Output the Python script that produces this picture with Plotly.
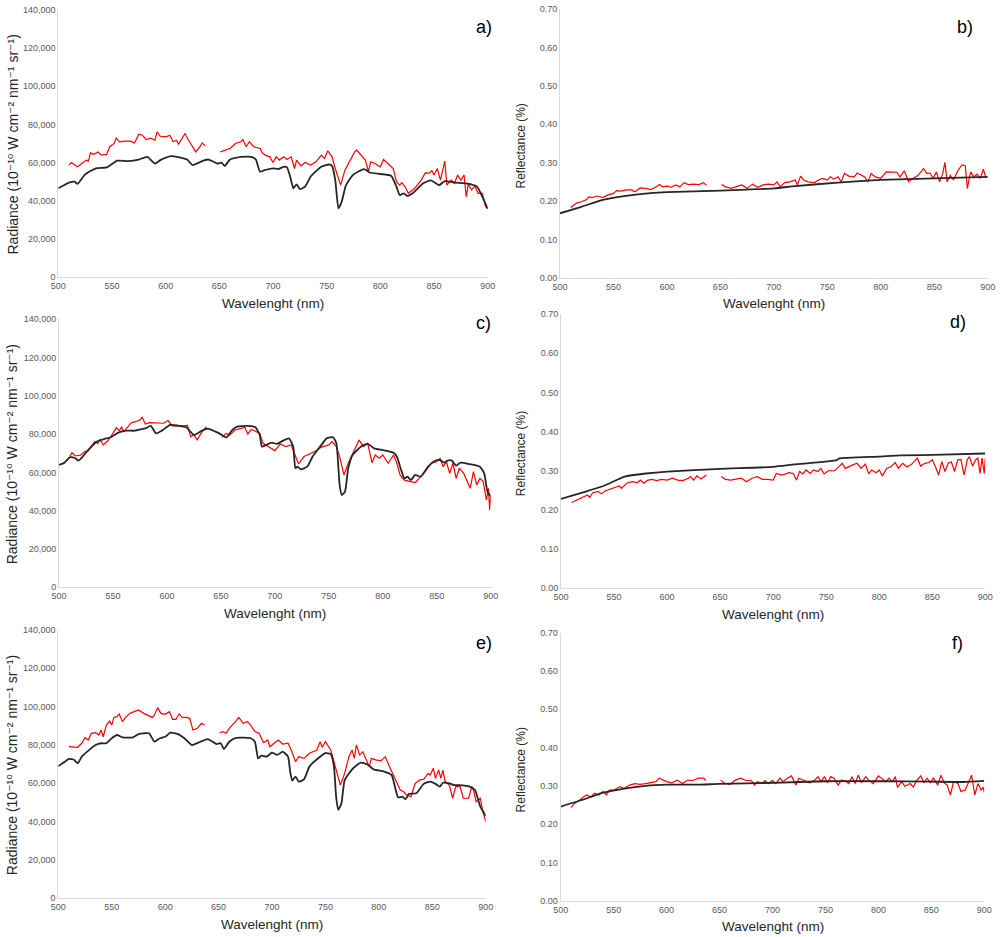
import plotly.graph_objects as go

# ---------------- Panel a (radiance) ----------------
wl_black_a = [500, 510, 515, 518, 525, 535, 545, 555, 565, 575, 583, 590, 595, 605, 615, 620, 625, 635, 640, 648, 652, 655, 660, 670, 680, 684, 688, 692, 700, 705, 710, 713, 716, 719, 722, 725, 730, 735, 745, 752, 755, 758, 761, 764, 768, 775, 785, 790, 800, 810, 815, 818, 822, 825, 830, 840, 847, 855, 860, 870, 880, 890, 895, 900]
rad_black_a = [46500, 49500, 50000, 48800, 53800, 57000, 57500, 61000, 60800, 61600, 63000, 59500, 61300, 63400, 62500, 61600, 58700, 61000, 61600, 59500, 60000, 58200, 61600, 63000, 63000, 61600, 55200, 56000, 57000, 56600, 57800, 57500, 52600, 46500, 48600, 46100, 47400, 52600, 57800, 59000, 58300, 50800, 36000, 39500, 48200, 53800, 56600, 54800, 54000, 53100, 47400, 43000, 43900, 42500, 43900, 49100, 50700, 48200, 50300, 49500, 49100, 47400, 42100, 35700]
wl_red_a = [510, 512, 518, 522, 526, 528, 530, 533, 537, 540, 545, 548, 552, 554, 557, 562, 567, 571, 575, 578, 582, 586, 590, 592, 595, 600, 604, 607, 610, 612, 616, 618, 621, 625, 628, 632, 634, 637, 644, 651, 655, 660, 665, 670, 672, 675, 678, 682, 688, 690, 693, 697, 700, 703, 706, 710, 713, 717, 720, 722, 726, 730, 735, 740, 745, 748, 751, 755, 758, 763, 767, 772, 776, 778, 782, 786, 789, 791, 795, 800, 803, 807, 812, 815, 818, 820, 823, 826, 832, 838, 842, 845, 848, 850, 853, 856, 858, 860, 862, 866, 869, 872, 875, 878, 880, 882, 885, 888, 891, 895, 898, 900]
rad_red_a = [58700, 60000, 57800, 59500, 61300, 60800, 65100, 64300, 65500, 63900, 64300, 68300, 70000, 73000, 70900, 71200, 71200, 70300, 74900, 74500, 72100, 72800, 71700, 76100, 73800, 73500, 74200, 70900, 71700, 69700, 73100, 75200, 72100, 68300, 65600, 68300, 70300, 68600, None, 65600, 66500, 67400, 70000, 70900, 72100, 68300, 70900, 68300, 67400, 65100, 63900, 63000, 60000, 63000, 61300, 63000, 61600, 63000, 56900, 61300, 58300, 60000, 58700, 60400, 63900, 62200, 66200, 63000, 56900, 48200, 56000, 61600, 65600, 66500, 63900, 61300, 55200, 60400, 59500, 57800, 61600, 59500, 56900, 50000, 48200, 49500, 47400, 43900, 46500, 50800, 54700, 54300, 55700, 53500, 56900, 50800, 55700, 60800, 48200, 50800, 49100, 53500, 50800, 53500, 42100, 48800, 45600, 47700, 43900, 43900, 36900, 36000]

# ---------------- Panel b (reflectance) ----------------
wl_black_b = [500, 520, 540, 560, 575, 600, 650, 700, 720, 760, 800, 850, 900]
ref_black_b = [0.168, 0.185, 0.203, 0.213, 0.218, 0.223, 0.227, 0.233, 0.239, 0.248, 0.255, 0.259, 0.263]
wl_red_b = [510, 515, 520, 525, 527, 530, 535, 540, 545, 550, 553, 557, 562, 567, 570, 575, 580, 585, 590, 593, 596, 600, 604, 608, 612, 616, 620, 625, 630, 634, 637, 644, 651, 655, 660, 665, 670, 675, 680, 685, 690, 695, 700, 703, 706, 710, 715, 720, 722, 725, 728, 732, 738, 742, 745, 750, 753, 756, 760, 763, 766, 770, 775, 778, 782, 785, 788, 791, 795, 800, 805, 810, 815, 818, 822, 826, 830, 835, 840, 843, 846, 849, 852, 855, 858, 860, 862, 865, 868, 872, 876, 879, 881, 884, 887, 890, 893, 896, 898, 900]
ref_red_b = [0.183, 0.194, 0.198, 0.204, 0.211, 0.209, 0.213, 0.209, 0.216, 0.220, 0.227, 0.226, 0.229, 0.229, 0.224, 0.234, 0.233, 0.230, 0.237, 0.243, 0.237, 0.239, 0.236, 0.242, 0.237, 0.248, 0.243, 0.244, 0.243, 0.248, 0.241, None, 0.243, 0.237, 0.233, 0.237, 0.242, 0.233, 0.244, 0.236, 0.242, 0.244, 0.242, 0.250, 0.237, 0.248, 0.250, 0.255, 0.242, 0.265, 0.255, 0.250, 0.248, 0.255, 0.259, 0.255, 0.263, 0.257, 0.263, 0.250, 0.272, 0.265, 0.263, 0.273, 0.267, 0.263, 0.250, 0.272, 0.263, 0.259, 0.276, 0.276, 0.275, 0.263, 0.279, 0.250, 0.259, 0.267, 0.285, 0.272, 0.273, 0.259, 0.276, 0.250, 0.272, 0.301, 0.250, 0.267, 0.255, 0.279, 0.294, 0.292, 0.233, 0.276, 0.263, 0.270, 0.259, 0.283, 0.263, 0.262]

# ---------------- Panel c (radiance) ----------------
wl_black_c = [500, 505, 510, 515, 518, 522, 528, 535, 542, 548, 555, 562, 570, 575, 580, 585, 590, 595, 603, 610, 618, 625, 632, 638, 645, 650, 655, 660, 665, 675, 682, 686, 688, 692, 697, 702, 706, 713, 717, 719, 721, 724, 730, 735, 742, 748, 754, 757, 760, 762, 765, 768, 772, 780, 786, 792, 800, 810, 813, 817, 820, 823, 826, 830, 835, 842, 848, 853, 857, 860, 864, 868, 872, 880, 890, 894, 897, 900]
rad_black_c = [63900, 65100, 67900, 67400, 66200, 68300, 72300, 76100, 77500, 78400, 80800, 81800, 81800, 82500, 83000, 84300, 80400, 81700, 84800, 84500, 83600, 79600, 81700, 82900, 81300, 79900, 78200, 81800, 83900, 84300, 83600, 79600, 73500, 74400, 75600, 74900, 76100, 77800, 73500, 62200, 63000, 61600, 63000, 68300, 73500, 77800, 78400, 75200, 53500, 48200, 50000, 62200, 69100, 73500, 74900, 72600, 71700, 70300, 68300, 61300, 56900, 57800, 56000, 58700, 57800, 63000, 66000, 66500, 65100, 66200, 66200, 63600, 65100, 64400, 63000, 59500, 50000, 47400]
wl_red_c = [510, 512, 515, 520, 524, 527, 530, 533, 536, 538, 541, 545, 550, 553, 556, 558, 560, 563, 567, 571, 575, 577, 580, 584, 590, 597, 601, 605, 610, 615, 619, 622, 625, 628, 632, 636, 637, 644, 651, 655, 658, 663, 668, 672, 675, 678, 683, 686, 689, 694, 700, 705, 710, 715, 718, 722, 727, 732, 737, 743, 750, 753, 757, 760, 764, 768, 772, 778, 782, 786, 790, 793, 797, 800, 805, 810, 813, 816, 820, 826, 830, 838, 845, 850, 853, 856, 859, 862, 865, 868, 871, 875, 878, 881, 884, 887, 890, 893, 896, 898, 899, 900]
rad_red_c = [68300, 70300, 68600, 69000, 70900, 71200, 73500, 76100, 75200, 77300, 74400, 76400, 80400, 83400, 81800, 83900, 81300, 83400, 86000, 86500, 87400, 88800, 85300, 86000, 85700, 85700, 87100, 84300, 84500, 84300, 84600, 78700, 79600, 77000, 80800, 83600, 82500, None, 78400, 80400, 79600, 82200, 82900, 83600, 80100, 82500, 81300, 80400, 75200, 73500, 71400, 74900, 73500, 74400, 69700, 64400, 68300, 69700, 70900, 73200, 74400, 76100, 73500, 68300, 58700, 64800, 70000, 77000, 73500, 75200, 65100, 69100, 67400, 69100, 64800, 69100, 64800, 58700, 56000, 55200, 54700, 59500, 64800, 65600, 67400, 63000, 65600, 59500, 64800, 56900, 62200, 59500, 55200, 51700, 60400, 53500, 56900, 55200, 45600, 51700, 40400, 47400]

# ---------------- Panel d (reflectance) ----------------
wl_black_d = [500, 520, 540, 560, 580, 600, 650, 700, 720, 760, 762, 800, 820, 860, 900]
ref_black_d = [0.228, 0.244, 0.261, 0.285, 0.293, 0.298, 0.305, 0.310, 0.316, 0.327, 0.331, 0.336, 0.339, 0.341, 0.344]
wl_red_d = [510, 515, 520, 525, 527, 530, 535, 538, 542, 548, 552, 555, 557, 562, 567, 572, 575, 578, 582, 586, 590, 595, 600, 605, 610, 615, 620, 622, 625, 628, 632, 637, 644, 651, 655, 660, 665, 670, 675, 680, 685, 690, 695, 700, 703, 708, 712, 715, 719, 722, 725, 728, 731, 735, 738, 742, 745, 748, 752, 758, 762, 765, 768, 772, 775, 779, 783, 787, 790, 793, 797, 800, 803, 807, 811, 815, 818, 822, 826, 830, 833, 836, 839, 843, 847, 850, 853, 856, 859, 862, 865, 868, 871, 874, 877, 880, 883, 885, 888, 891, 893, 895, 897, 899, 900]
ref_red_d = [0.219, 0.225, 0.230, 0.238, 0.232, 0.244, 0.247, 0.241, 0.249, 0.255, 0.258, 0.261, 0.255, 0.268, 0.272, 0.270, 0.276, 0.268, 0.276, 0.278, 0.275, 0.278, 0.276, 0.281, 0.276, 0.275, 0.281, 0.285, 0.276, 0.287, 0.279, 0.289, None, 0.285, 0.278, 0.276, 0.278, 0.281, 0.272, 0.281, 0.285, 0.278, 0.278, 0.276, 0.293, 0.289, 0.292, 0.295, 0.293, 0.276, 0.298, 0.292, 0.302, 0.293, 0.302, 0.298, 0.306, 0.292, 0.300, 0.300, 0.310, 0.319, 0.306, 0.312, 0.315, 0.319, 0.306, 0.317, 0.292, 0.302, 0.295, 0.302, 0.287, 0.306, 0.310, 0.321, 0.306, 0.319, 0.310, 0.315, 0.323, 0.332, 0.312, 0.319, 0.321, 0.328, 0.310, 0.289, 0.323, 0.298, 0.319, 0.323, 0.298, 0.328, 0.329, 0.289, 0.328, 0.336, 0.312, 0.328, 0.332, 0.293, 0.332, 0.293, 0.332]

# ---------------- Panel e (radiance) ----------------
wl_black_e = [500, 505, 510, 515, 518, 522, 527, 535, 540, 545, 550, 555, 560, 570, 575, 580, 585, 590, 595, 600, 605, 612, 618, 625, 633, 640, 648, 652, 655, 660, 665, 670, 680, 684, 687, 690, 695, 700, 705, 710, 715, 717, 719, 722, 725, 730, 735, 745, 750, 755, 758, 760, 762, 765, 768, 775, 783, 790, 795, 805, 812, 815, 818, 822, 825, 828, 835, 842, 848, 853, 857, 860, 866, 870, 875, 885, 890, 895, 900]
rad_black_e = [69000, 70800, 72700, 72200, 70400, 73900, 76500, 80000, 80900, 80900, 83500, 85200, 84000, 84000, 85700, 86100, 86100, 81700, 83500, 84300, 86400, 85700, 83500, 80000, 81700, 83100, 80500, 80900, 77900, 81700, 83500, 83800, 83500, 81700, 73000, 74400, 73900, 76000, 74800, 76500, 73900, 66100, 61400, 63500, 60900, 62100, 68700, 73900, 75700, 75300, 68700, 53000, 46100, 49600, 61700, 67300, 70800, 69600, 67300, 66100, 64300, 58300, 52700, 53000, 51700, 54400, 54800, 59700, 60900, 59700, 58300, 60300, 60000, 59100, 59100, 58300, 56500, 47800, 43000]
wl_red_e = [510, 514, 518, 522, 525, 528, 531, 535, 538, 540, 542, 545, 548, 550, 552, 555, 557, 560, 563, 567, 571, 575, 580, 585, 588, 590, 593, 596, 600, 604, 607, 610, 613, 616, 620, 623, 626, 630, 634, 637, 644, 651, 654, 657, 660, 665, 669, 673, 677, 680, 684, 688, 692, 696, 698, 702, 706, 710, 715, 718, 722, 725, 730, 735, 742, 745, 747, 750, 752, 755, 758, 761, 764, 768, 772, 775, 777, 779, 782, 785, 788, 791, 793, 797, 802, 806, 810, 814, 817, 820, 823, 826, 830, 834, 838, 842, 846, 848, 851, 853, 856, 858, 860, 862, 866, 869, 872, 876, 879, 884, 887, 889, 891, 895, 897, 900]
rad_red_e = [79100, 78800, 78800, 80900, 83800, 82600, 86100, 86400, 85200, 87800, 84300, 90400, 92500, 90400, 94400, 94800, 96200, 92200, 94400, 96500, 97400, 98300, 96500, 95100, 94400, 95700, 99500, 96500, 96000, 97400, 93400, 93400, 96200, 94400, 94400, 93900, 87800, 88700, 91300, 90400, None, 86400, 87000, 86100, 88700, 91700, 94400, 91300, 92200, 90400, 87000, 86100, 81200, 82600, 79100, 80900, 82600, 80500, 80900, 77400, 71300, 73900, 73000, 75700, 77400, 81700, 78800, 81700, 80000, 77400, 71300, 65200, 59100, 65200, 73900, 77400, 73000, 80000, 74800, 76500, 72200, 68700, 73000, 72200, 71700, 73900, 68700, 63500, 60000, 56500, 55700, 53900, 53000, 60000, 61700, 62100, 65200, 64300, 67800, 62600, 66900, 62600, 66900, 60900, 59100, 52200, 58300, 58300, 52200, 52200, 58300, 55700, 50400, 52200, 46100, 40000]

# ---------------- Panel f (reflectance) ----------------
wl_black_f = [500, 520, 540, 560, 580, 600, 630, 650, 700, 750, 800, 850, 880, 900]
ref_black_f = [0.246, 0.263, 0.282, 0.293, 0.300, 0.303, 0.303, 0.305, 0.308, 0.312, 0.312, 0.311, 0.310, 0.313]
wl_red_f = [510, 513, 518, 522, 525, 528, 532, 536, 540, 543, 546, 550, 553, 556, 560, 565, 570, 575, 580, 585, 590, 593, 597, 600, 605, 610, 615, 620, 625, 630, 635, 637, 644, 651, 655, 660, 665, 670, 675, 680, 683, 686, 690, 693, 696, 700, 703, 707, 710, 714, 718, 722, 725, 730, 735, 740, 743, 746, 749, 752, 755, 758, 762, 765, 768, 772, 775, 778, 781, 784, 788, 791, 795, 800, 803, 807, 810, 813, 816, 818, 822, 825, 830, 833, 836, 840, 843, 846, 849, 852, 856, 859, 862, 865, 868, 871, 875, 878, 882, 886, 888, 891, 894, 897, 899, 900]
ref_red_f = [0.244, 0.254, 0.263, 0.272, 0.276, 0.270, 0.281, 0.276, 0.285, 0.276, 0.289, 0.289, 0.293, 0.298, 0.293, 0.302, 0.306, 0.304, 0.306, 0.308, 0.311, 0.320, 0.314, 0.311, 0.308, 0.315, 0.306, 0.315, 0.314, 0.320, 0.320, 0.314, None, 0.315, 0.306, 0.304, 0.315, 0.320, 0.314, 0.314, 0.302, 0.311, 0.306, 0.314, 0.306, 0.314, 0.306, 0.320, 0.311, 0.320, 0.326, 0.302, 0.320, 0.314, 0.308, 0.315, 0.324, 0.311, 0.324, 0.308, 0.324, 0.320, 0.302, 0.315, 0.314, 0.306, 0.324, 0.306, 0.328, 0.308, 0.324, 0.315, 0.306, 0.326, 0.320, 0.311, 0.320, 0.311, 0.324, 0.296, 0.311, 0.299, 0.306, 0.297, 0.314, 0.326, 0.308, 0.320, 0.308, 0.320, 0.302, 0.328, 0.308, 0.302, 0.276, 0.311, 0.306, 0.285, 0.289, 0.315, 0.328, 0.276, 0.306, 0.289, 0.297, 0.282]

x_ticks = [500, 550, 600, 650, 700, 750, 800, 850, 900]
rad_ticks = [0, 20000, 40000, 60000, 80000, 100000, 120000, 140000]
ref_ticks = [0.0, 0.1, 0.2, 0.3, 0.4, 0.5, 0.6, 0.7]
panel_labels = ["a)", "b)", "c)", "d)", "e)", "f)"]
x_title = "Wavelenght (nm)"
rad_title = "Radiance (10\u207b\u00b9\u2070 W cm\u207b\u00b2 nm\u207b\u00b9 sr\u207b\u00b9)"
ref_title = "Reflectance (%)"

W, H = 1004, 937

# pixel boxes: (left, right, top, bottom)
boxes = [
    (58.3, 487.7, 10.0, 277.0),
    (560.0, 987.7, 9.3, 277.7),
    (59.0, 490.7, 319.3, 587.3),
    (561.0, 985.3, 314.0, 588.3),
    (58.3, 485.7, 630.0, 898.3),
    (560.7, 984.3, 632.7, 900.7),
]
label_pos = [(484, 27), (965, 27), (483, 323), (958, 322), (484, 643), (957, 643)]

panels = [
    (wl_black_a, rad_black_a, wl_red_a, rad_red_a, "rad"),
    (wl_black_b, ref_black_b, wl_red_b, ref_red_b, "ref"),
    (wl_black_c, rad_black_c, wl_red_c, rad_red_c, "rad"),
    (wl_black_d, ref_black_d, wl_red_d, ref_red_d, "ref"),
    (wl_black_e, rad_black_e, wl_red_e, rad_red_e, "rad"),
    (wl_black_f, ref_black_f, wl_red_f, ref_red_f, "ref"),
]

FONT = "Liberation Sans, Arial, DejaVu Sans, sans-serif"
fig = go.Figure()
layout = {}
annotations = []
tick_font = dict(family=FONT, size=9, color="#595959")
axis_color = "#d9d9d9"

for i, (bx, by, rx, ry, kind) in enumerate(panels):
    n = i + 1
    xa = "x" if n == 1 else f"x{n}"
    ya = "y" if n == 1 else f"y{n}"
    l, r, t, b = boxes[i]
    fig.add_trace(go.Scatter(x=rx, y=ry, mode="lines", xaxis=xa, yaxis=ya,
                             line=dict(color="#ff0000", width=1.2), connectgaps=False,
                             showlegend=False, hoverinfo="skip"))
    fig.add_trace(go.Scatter(x=bx, y=by, mode="lines", xaxis=xa, yaxis=ya,
                             line=dict(color="#262626", width=1.8, shape="spline", smoothing=0.5),
                             showlegend=False, hoverinfo="skip"))
    xkey = "xaxis" if n == 1 else f"xaxis{n}"
    ykey = "yaxis" if n == 1 else f"yaxis{n}"
    layout[xkey] = dict(domain=[l / W, r / W], anchor=ya, range=[500, 900],
                        tickvals=x_ticks, showgrid=False, zeroline=False,
                        showline=True, linecolor=axis_color, linewidth=1,
                        ticks="", tickfont=tick_font, fixedrange=True, automargin=False)
    if kind == "rad":
        yr = [0, 140000]
        tv = rad_ticks
        tf = ",d"
    else:
        yr = [0, 0.7]
        tv = ref_ticks
        tf = ".2f"
    layout[ykey] = dict(domain=[1 - b / H, 1 - t / H], anchor=xa, range=yr,
                        tickvals=tv, tickformat=tf, showgrid=False, zeroline=False,
                        showline=True, linecolor=axis_color, linewidth=1,
                        ticks="", tickfont=tick_font, fixedrange=True, automargin=False)
    # x-axis title
    annotations.append(dict(text=x_title, xref="paper", yref="paper",
                            x=((l + r) / 2) / W, y=1 - (b + 26) / H,
                            xanchor="center", yanchor="middle", showarrow=False,
                            font=dict(family=FONT, size=13.5, color="#262626")))
    # y-axis title
    if kind == "rad":
        annotations.append(dict(text=rad_title, xref="paper", yref="paper",
                                x=12 / W, y=1 - ((t + b) / 2 + 1) / H, textangle=-90,
                                xanchor="center", yanchor="middle", showarrow=False,
                                font=dict(family=FONT, size=14, color="#262626")))
    else:
        annotations.append(dict(text=ref_title, xref="paper", yref="paper",
                                x=(l - 40) / W, y=1 - ((t + b) / 2 + 3) / H, textangle=-90,
                                xanchor="center", yanchor="middle", showarrow=False,
                                font=dict(family=FONT, size=12, color="#262626")))
    lx, ly = label_pos[i]
    annotations.append(dict(text=panel_labels[i], xref="paper", yref="paper",
                            x=lx / W, y=1 - ly / H, xanchor="center", yanchor="middle",
                            showarrow=False,
                            font=dict(family=FONT, size=18, color="#000000")))

fig.update_layout(width=W, height=H, margin=dict(l=0, r=0, t=0, b=0),
                  paper_bgcolor="white", plot_bgcolor="white",
                  annotations=annotations, **layout)

fig.write_html("out.html")
